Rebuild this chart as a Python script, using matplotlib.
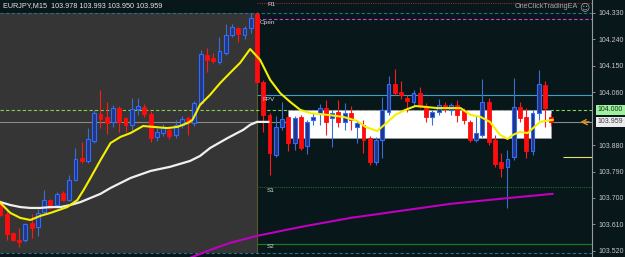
import matplotlib
matplotlib.use("Agg")
import matplotlib.pyplot as plt
import numpy as np
from matplotlib.patches import Rectangle

# EURJPY M15 candles
opens = [103.683, 103.646, 103.581, 103.557, 103.557, 103.615, 103.601, 103.652, 103.693, 103.676,
         103.717, 103.693, 103.761, 103.836, 103.826, 103.894, 103.986, 103.976, 103.959, 104.006,
         103.972, 103.949, 104.003, 104.010, 103.986, 103.908, 103.921, 103.932, 103.915, 103.949,
         103.972, 103.955, 104.023, 104.187, 104.177, 104.163, 104.194, 104.255, 104.279, 104.255,
         104.279, 104.326, 104.095, 103.983, 103.846, 103.942, 103.976, 103.887, 103.976, 103.877,
         103.966, 103.989, 104.006, 103.972, 103.993, 103.959, 103.989, 103.942, 103.949, 103.904,
         103.823, 103.897, 103.993, 104.088, 104.061, 104.040, 104.027, 104.057, 104.010, 103.976,
         103.993, 104.017, 104.000, 104.017, 104.000, 103.959, 103.897, 103.915, 104.027, 103.897,
         103.823, 103.806, 103.840, 104.010, 103.976, 103.860, 103.989, 104.085, 103.976]
closes = [103.642, 103.577, 103.557, 103.550, 103.612, 103.598, 103.649, 103.693, 103.666, 103.714,
          103.693, 103.761, 103.833, 103.826, 103.901, 103.989, 103.969, 103.955, 104.006, 103.959,
          103.949, 104.003, 104.013, 103.986, 103.904, 103.925, 103.938, 103.911, 103.949, 103.969,
          103.955, 104.023, 104.190, 104.170, 104.166, 104.200, 104.255, 104.282, 104.258, 104.279,
          104.313, 104.095, 103.983, 103.853, 103.942, 103.969, 103.887, 103.972, 103.870, 103.959,
          103.976, 104.006, 103.959, 103.989, 103.959, 103.989, 103.966, 103.955, 103.897, 103.823,
          103.897, 104.000, 104.088, 104.057, 104.051, 104.030, 104.057, 104.017, 103.976, 103.993,
          104.017, 104.006, 104.017, 103.983, 103.966, 103.897, 103.921, 104.027, 103.891, 103.816,
          103.802, 103.833, 104.010, 103.972, 103.860, 103.989, 104.088, 104.006, 103.959]
highs = [103.693, 103.656, 103.584, 103.598, 103.615, 103.646, 103.663, 103.727, 103.697, 103.720,
         103.724, 103.778, 103.870, 103.891, 103.938, 104.000, 104.068, 104.027, 104.017, 104.013,
         103.976, 104.040, 104.040, 104.020, 103.996, 103.938, 103.952, 103.942, 103.966, 103.979,
         103.979, 104.030, 104.204, 104.211, 104.194, 104.248, 104.292, 104.292, 104.282, 104.285,
         104.330, 104.333, 104.102, 103.989, 103.979, 104.027, 103.979, 103.979, 103.983, 103.966,
         103.989, 104.020, 104.034, 104.000, 104.034, 104.023, 104.013, 103.966, 103.966, 103.911,
         103.908, 104.044, 104.115, 104.139, 104.098, 104.051, 104.068, 104.078, 104.023, 104.000,
         104.037, 104.027, 104.023, 104.034, 104.006, 103.966, 103.983, 104.105, 104.040, 103.915,
         103.853, 103.863, 104.108, 104.027, 104.006, 104.000, 104.136, 104.098, 103.989]
lows = [103.639, 103.557, 103.554, 103.533, 103.550, 103.564, 103.571, 103.649, 103.663, 103.669,
        103.690, 103.690, 103.758, 103.819, 103.819, 103.887, 103.938, 103.918, 103.942, 103.925,
        103.925, 103.932, 103.983, 103.976, 103.891, 103.894, 103.911, 103.901, 103.904, 103.938,
        103.915, 103.945, 104.017, 104.129, 104.160, 104.156, 104.187, 104.248, 104.231, 104.241,
        104.262, 104.091, 103.925, 103.778, 103.840, 103.932, 103.860, 103.863, 103.863, 103.850,
        103.949, 103.949, 103.915, 103.874, 103.942, 103.932, 103.932, 103.887, 103.853, 103.812,
        103.812, 103.836, 103.983, 104.051, 104.037, 103.993, 104.013, 104.006, 103.959, 103.949,
        103.983, 103.993, 103.983, 103.959, 103.952, 103.891, 103.891, 103.908, 103.880, 103.806,
        103.772, 103.666, 103.829, 103.959, 103.836, 103.846, 103.966, 103.942, 103.945]

# moving averages (bar position, price)
fast_ma_x = [0, 1.6, 3.2, 4.8, 6.4, 8.0, 10.7, 12.3, 13.3, 14.4, 16.0, 17.6, 19.2, 20.8, 22.8,
             24.4, 26.7, 28.3, 29.9, 30.7, 31.9, 33.5, 35.1, 36.7, 38.3, 39.9, 41.5, 43.1, 44.7,
             46.3, 47.9, 49.5, 52.2, 54.8, 57.0, 58.3, 60.2, 61.5, 63.1, 64.7, 66.3, 67.9, 69.8,
             71.9, 73.5, 75.1, 76.7, 78.2, 79.8, 81.0, 81.9, 83.0, 84.2, 85.1, 86.2, 88.2]
fast_ma = [103.683, 103.649, 103.632, 103.625, 103.639, 103.649, 103.669, 103.693, 103.727,
           103.768, 103.829, 103.887, 103.908, 103.921, 103.945, 103.942, 103.938, 103.942,
           103.955, 103.966, 104.017, 104.051, 104.091, 104.126, 104.160, 104.207, 104.170,
           104.102, 104.057, 104.027, 104.000, 103.989, 103.983, 103.976, 103.962, 103.942,
           103.928, 103.952, 103.983, 104.000, 104.013, 104.010, 104.006, 104.006, 104.006,
           103.983, 103.976, 103.959, 103.915, 103.901, 103.915, 103.925, 103.921, 103.938,
           103.959, 103.966]
slow_ma_x = [0, 1.6, 3.2, 4.8, 6.4, 8.0, 9.6, 11.2, 12.8, 14.4, 16.0, 17.6, 20.8, 24.0, 27.1,
             30.3, 31.9, 33.5, 36.3, 38.8, 39.9, 41.0, 42.8]
slow_ma = [103.686, 103.676, 103.669, 103.666, 103.666, 103.669, 103.669, 103.676, 103.686,
           103.700, 103.714, 103.734, 103.768, 103.792, 103.806, 103.826, 103.843, 103.870,
           103.904, 103.932, 103.949, 103.959, 103.959]
long_ma_x = [30.3, 33.5, 36.7, 41.0, 47.9, 55.9, 63.9, 71.9, 79.8, 88.2]
long_ma = [103.496, 103.523, 103.547, 103.571, 103.601, 103.632, 103.656, 103.680, 103.697, 103.714]

# price levels
level_r1 = 104.364
day_high = 104.330
day_open = 104.311
level_fpv = 104.051
round_level = 104.000
last_price = 103.959
level_s1 = 103.738
level_s2 = 103.543
day_low = 103.511
ea_level = 103.841

tick_vals = [104.330, 104.240, 104.150, 104.060, 103.880, 103.790, 103.700, 103.610, 103.520]
title_text = "EURJPY,M15  103.978 103.993 103.950 103.959"

BG = "#08171a"
GREY_BOX = "#353535"
FONT = ["Liberation Sans", "DejaVu Sans"]

fig = plt.figure(figsize=(6.25, 2.57), dpi=100)
fig.patch.set_facecolor(BG)
ax = fig.add_axes([0, 0, 592 / 625, 1])
ax.set_facecolor(BG)
ax.set_xlim(-0.05, 94.5)
ax.set_ylim(103.499, 104.374)

n = len(opens)
x = np.arange(n)
o = np.array(opens)
c = np.array(closes)
h = np.array(highs)
l = np.array(lows)
split = 41.05

# previous session box (grey) and the white overlay box
ax.add_patch(Rectangle((-1, day_low), split + 1, day_high - day_low,
                       facecolor=GREY_BOX, edgecolor="none", zorder=0))
ax.axvline(split, ymin=0.02, ymax=0.95, color="#5a5830", lw=0.8, zorder=0.5)
ax.add_patch(Rectangle((46.0, 103.904), 42.0, round_level - 103.904,
                       facecolor="white", edgecolor="#9a9a9a", lw=0.6, zorder=1.5))

# horizontal levels
ax.axhline(day_high, color="#2a6f8a", lw=0.8, ls=(0, (3, 2)), zorder=1)
ax.axhline(day_low, color="#2a6f8a", lw=0.8, ls=(0, (3, 2)), zorder=1)
ax.axhline(round_level, color="#86d04a", lw=0.8, ls=(0, (3, 2)), zorder=1)
ax.axhline(last_price, color="#8a8a8a", lw=0.8, zorder=1)
ax.hlines(level_r1, split, 94.5, color="#a0203a", lw=0.8, ls=(0, (1, 1)), zorder=1)
ax.hlines(day_open, split, 94.5, color="#d040d0", lw=0.8, ls=(0, (3, 2)), zorder=1)
ax.hlines(level_fpv, split, 94.5, color="#3aa0d0", lw=0.8, zorder=1)
ax.hlines(level_s1, split, 94.5, color="#1f6a1f", lw=0.8, ls=(0, (1, 1)), zorder=1)
ax.hlines(level_s2, split, 94.5, color="#1c7a1c", lw=0.9, zorder=1)
ax.hlines(ea_level, 89.8, 94.5, color="#e8e070", lw=0.8, zorder=1)

# candles
up = c >= o
wick_colors = np.where(up, "#3a6fd0", "#ff1a1a")
ax.vlines(x, l, h, colors=wick_colors, lw=0.8, zorder=3)
ax.bar(x[up], c[up] - o[up], bottom=o[up], width=0.62,
       color="#23367f", edgecolor="#2f6cff", lw=0.8, zorder=3.5)
ax.bar(x[~up], o[~up] - c[~up], bottom=c[~up], width=0.62,
       color="#ff0d0d", edgecolor="#ff0d0d", lw=0.6, zorder=3.5)

# moving averages
ax.plot(long_ma_x, long_ma, color="#c000c0", lw=1.5, zorder=4)
ax.plot(slow_ma_x, slow_ma, color="#f0f0f0", lw=1.6, zorder=4)
ax.plot(fast_ma_x, fast_ma, color="#f5f000", lw=1.5, zorder=4.5)

# level labels
label_kw = dict(color="#d8d8d8", fontsize=4.6, family=FONT, va="center", zorder=5)
ax.text(42.6, 104.357, "R1", **label_kw)
ax.text(41.4, 104.299, "Open", **label_kw)
ax.text(41.8, 104.035, "FPV", **label_kw)
ax.text(42.6, 103.727, "S1", **label_kw)
ax.text(42.6, 103.535, "S2", **label_kw)

# price arrow
ax.annotate("", xy=(92.2, last_price), xytext=(94.5, last_price),
            arrowprops=dict(arrowstyle="->", color="#f0a020", lw=0.9, ls="--"), zorder=5)

# right axis
ax.yaxis.tick_right()
ax.set_yticks(tick_vals)
ax.set_yticklabels([f"{v:.3f}" for v in tick_vals], family=FONT)
ax.tick_params(axis="y", direction="out", length=2.5, width=0.6, color="#a0a0a0",
               labelcolor="#c8c8c8", labelsize=5, pad=2.5)
ax.set_xticks([])
for side in ["top", "bottom", "left"]:
    ax.spines[side].set_visible(False)
ax.spines["right"].set_color("#9a9a9a")
ax.spines["right"].set_linewidth(0.8)

yx = ax.get_yaxis_transform()
ax.text(1.01, round_level, "104.000", transform=yx, ha="left", va="center",
        fontsize=5, family=FONT, color="#103010", clip_on=False,
        bbox=dict(boxstyle="square,pad=0.25", fc="#9ef09e", ec="none"))
ax.text(1.01, last_price, "103.959", transform=yx, ha="left", va="center",
        fontsize=5, family=FONT, color="#404040", clip_on=False,
        bbox=dict(boxstyle="square,pad=0.25", fc="#ececec", ec="none"))

# header texts
fig.text(3 / 625, 1 - 6 / 257, title_text, color="#e6e6e6", fontsize=5.2,
         family=FONT, ha="left", va="center")
fig.text(578 / 625, 1 - 7 / 257, "OneClickTradingEA", color="#a8a8a8", fontsize=5.2,
         family=FONT, ha="right", va="center")
fig.text(584 / 625, 1 - 7 / 257, "\u263a", color="#a8a8a8", fontsize=7,
         family="DejaVu Sans", ha="center", va="center")

fig.savefig("out.png", dpi=100, facecolor=fig.get_facecolor())
plt.close(fig)
